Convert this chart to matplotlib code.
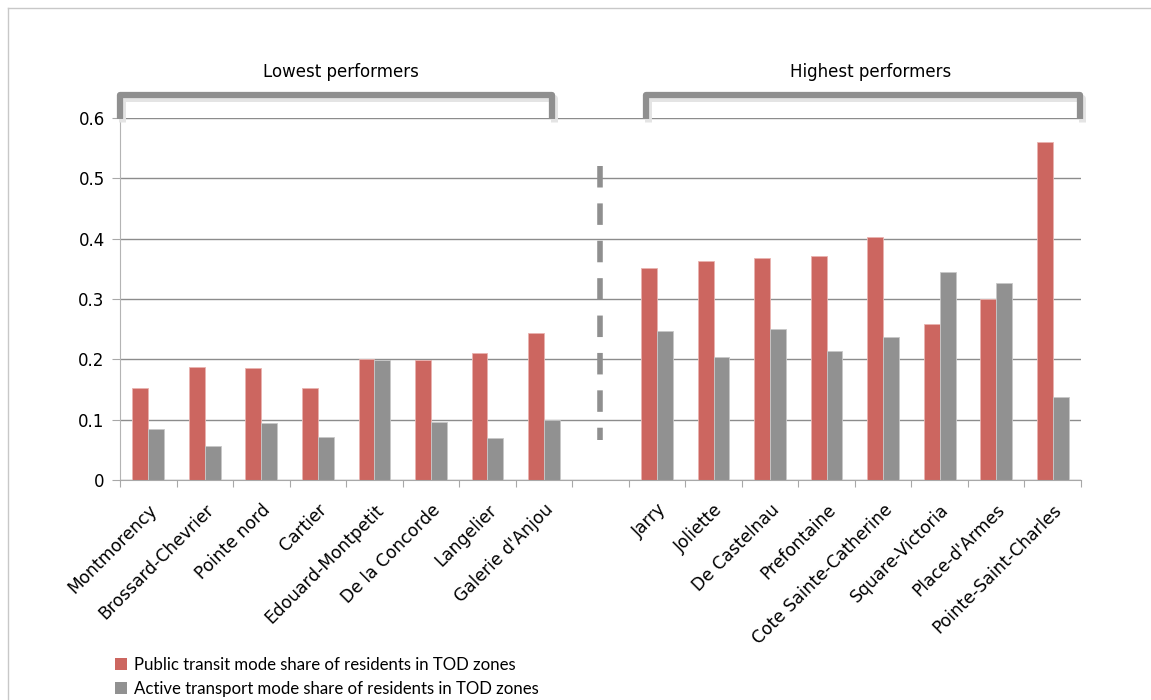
import numpy as np
import matplotlib
matplotlib.use('Agg')
import matplotlib.pyplot as plt
from matplotlib.lines import Line2D
from matplotlib.patches import Patch

# station names (empty slot separates the two groups)
stations = ['Montmorency', 'Brossard-Chevrier', 'Pointe nord', 'Cartier',
            'Edouard-Montpetit', 'De la Concorde', 'Langelier', "Galerie d'Anjou",
            '',
            'Jarry', 'Joliette', 'De Castelnau', 'Prefontaine',
            'Cote Sainte-Catherine', 'Square-Victoria', "Place-d'Armes",
            'Pointe-Saint-Charles']

# public transit mode share
transit = [0.153, 0.188, 0.186, 0.153, 0.200, 0.199, 0.210, 0.243,
           np.nan,
           0.351, 0.363, 0.368, 0.371, 0.403, 0.258, 0.300, 0.561]

# active transport mode share
active = [0.085, 0.056, 0.094, 0.071, 0.199, 0.096, 0.069, 0.100,
          np.nan,
          0.247, 0.204, 0.251, 0.213, 0.237, 0.344, 0.326, 0.137]

legend_labels = ['Public transit mode share of residents in TOD zones',
                 'Active transport mode share of residents in TOD zones']

red = '#cc6660'
grey = '#919191'

plt.rcParams['font.family'] = ['DejaVu Sans']
W, H = 1151, 700
fig = plt.figure(figsize=(W / 100, H / 100), dpi=100)


def fx(px):
    return px / W


def fy(py):
    return 1 - py / H


ax = fig.add_axes([fx(120), fy(480), fx(1081) - fx(120), fy(118) - fy(480)])

x = np.arange(len(stations))
bw = 0.28
ax.bar(x - bw / 2, transit, bw, color=red, edgecolor='#e9b3af', linewidth=0.6)
ax.bar(x + bw / 2, active, bw, color=grey, edgecolor='#c8c8c8', linewidth=0.6)

ax.set_xlim(-0.5, len(stations) - 0.5)
ax.set_ylim(0, 0.6)
ax.set_yticks(np.arange(0, 0.61, 0.1))
ax.set_yticklabels(['0', '0.1', '0.2', '0.3', '0.4', '0.5', '0.6'], fontsize=12)
ax.yaxis.grid(True, color='#8c8c8c', linewidth=1)
ax.set_axisbelow(True)

# boundary ticks and centred labels
ax.set_xticks(np.arange(len(stations) + 1) - 0.5)
ax.set_xticklabels([])
ax.set_xticks(x, minor=True)
ax.set_xticklabels(stations, minor=True, rotation=45, ha='right',
                   rotation_mode='anchor', fontsize=12.3)
ax.tick_params(axis='x', which='major', length=5, color='#a8a8a8')
ax.tick_params(axis='x', which='minor', length=0, pad=15)
ax.tick_params(axis='y', length=6, color='#a8a8a8', pad=5)

for s in ['top', 'right']:
    ax.spines[s].set_visible(False)
ax.spines['left'].set_color('#b4b4b4')
ax.spines['bottom'].set_color('#a8a8a8')

# figure frame (top and left edges visible)
fig.add_artist(Line2D([fx(8), fx(8)], [fy(8), 0], color='#c8c8c8', lw=1))
fig.add_artist(Line2D([fx(8), 1], [fy(8), fy(8)], color='#c8c8c8', lw=1))


def bracket(x0, x1, ytop, ybot):
    xs = [fx(x0), fx(x0), fx(x1), fx(x1)]
    ys = [fy(ybot), fy(ytop), fy(ytop), fy(ybot)]
    # soft shadow
    fig.add_artist(Line2D([v + fx(1.5) for v in xs], [v - 2.5 / H for v in ys],
                          color='#e4e4e4', lw=5, solid_joinstyle='round',
                          solid_capstyle='butt'))
    fig.add_artist(Line2D(xs, ys, color='#8f8f8f', lw=4.5,
                          solid_joinstyle='round', solid_capstyle='butt'))


bracket(120, 552, 95, 119)
bracket(646, 1080, 95, 119)

fig.text(fx(341), fy(72), 'Lowest performers', ha='center', va='center', fontsize=12)
fig.text(fx(871), fy(72), 'Highest performers', ha='center', va='center', fontsize=12)

# dashed divider
fig.add_artist(Line2D([fx(600), fx(600)], [fy(166), fy(440)], color='#8f8f8f',
                      lw=4, linestyle=(0, (3.87, 2.86))))

handles = [Patch(facecolor=red, edgecolor='none'),
           Patch(facecolor=grey, edgecolor='none')]
fig.legend(handles, legend_labels, loc='upper left',
           bbox_to_anchor=(fx(108), fy(650)), frameon=False,
           prop={'family': 'Lato', 'size': 12.1},
           handlelength=0.74, handleheight=0.74, handletextpad=0.38,
           labelspacing=0.5, borderaxespad=0)

fig.savefig('out.png', dpi=100)
